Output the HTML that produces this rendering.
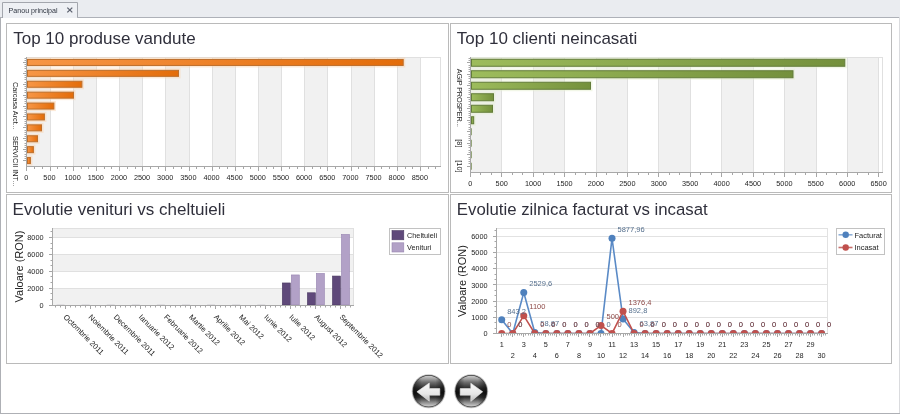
<!DOCTYPE html><html><head><meta charset="utf-8"><style>html,body{margin:0;padding:0;background:#fff;width:900px;height:414px;overflow:hidden}svg{position:absolute;left:0;top:0;display:block;will-change:transform}text{font-family:"Liberation Sans",sans-serif}</style></head><body>
<svg width="900" height="414" viewBox="0 0 900 414">
<defs>
<linearGradient id="gOr" x1="0" y1="0" x2="1" y2="0"><stop offset="0" stop-color="#f79646"/><stop offset="1" stop-color="#e36c09"/></linearGradient>
<linearGradient id="gGr" x1="0" y1="0" x2="1" y2="0"><stop offset="0" stop-color="#9dbc5c"/><stop offset="1" stop-color="#74903c"/></linearGradient>
<linearGradient id="btnV" x1="0" y1="0" x2="0" y2="1"><stop offset="0" stop-color="#cacaca"/><stop offset="0.1" stop-color="#a2a2a2"/><stop offset="0.22" stop-color="#6a6a6a"/><stop offset="0.4" stop-color="#2e2e2e"/><stop offset="0.55" stop-color="#151515"/><stop offset="0.7" stop-color="#333333"/><stop offset="0.86" stop-color="#8c8c8c"/><stop offset="1" stop-color="#d0d0d0"/></linearGradient>
<linearGradient id="btnEdge" x1="0" y1="0" x2="1" y2="0"><stop offset="0" stop-color="#000" stop-opacity="0.5"/><stop offset="0.28" stop-color="#000" stop-opacity="0"/><stop offset="0.72" stop-color="#000" stop-opacity="0"/><stop offset="1" stop-color="#000" stop-opacity="0.5"/></linearGradient>
<linearGradient id="arrG" x1="0" y1="0" x2="0" y2="1"><stop offset="0" stop-color="#fafafa"/><stop offset="0.6" stop-color="#e6e6e6"/><stop offset="1" stop-color="#b8b8b8"/></linearGradient>
<clipPath id="clipBR"><rect x="497" y="228" width="330" height="105"/></clipPath>
</defs>
<rect x="0.00" y="0.00" width="900.00" height="17.00" fill="#eaecf0" />
<rect x="0" y="17" width="900" height="397" fill="#fff"/>
<line x1="0" y1="17.5" x2="900" y2="17.5" stroke="#aeb1b8" stroke-width="1" />
<line x1="0.5" y1="17" x2="0.5" y2="414" stroke="#aeb0b5" stroke-width="1" />
<line x1="0" y1="413.5" x2="900" y2="413.5" stroke="#aeb0b5" stroke-width="1" />
<line x1="899.5" y1="17" x2="899.5" y2="413" stroke="#dadbde" stroke-width="1" />
<path d="M2.5 18 V2.5 H77.5 V17.5" fill="#eef0f4" stroke="#a3a6ad"/>
<rect x="3.00" y="3.00" width="74.00" height="15.00" fill="#eef0f4" />
<text x="8.60" y="12.60" font-size="7.1" fill="#2e3440" text-anchor="start" >Panou principal</text>
<path d="M67.3 7.6 L72.3 12.4 M72.3 7.6 L67.3 12.4" stroke="#5d6270" stroke-width="1.3"/>
<rect x="6.5" y="23.5" width="442" height="169" fill="#fff" stroke="#bababa"/>
<rect x="450.5" y="23.5" width="441" height="169" fill="#fff" stroke="#bababa"/>
<rect x="6.5" y="194.5" width="442" height="169" fill="#fff" stroke="#bababa"/>
<rect x="450.5" y="194.5" width="441" height="169" fill="#fff" stroke="#bababa"/>
<text x="13.20" y="44.10" font-size="17" fill="#30303c" text-anchor="start" >Top 10 produse vandute</text>
<text x="456.80" y="44.10" font-size="17" fill="#30303c" text-anchor="start" >Top 10 clienti neincasati</text>
<text x="12.60" y="214.60" font-size="17" fill="#30303c" text-anchor="start" >Evolutie venituri vs cheltuieli</text>
<text x="456.80" y="214.80" font-size="16.8" fill="#30303c" text-anchor="start" >Evolutie zilnica facturat vs incasat</text>
<rect x="27.00" y="57.00" width="23.50" height="109.00" fill="#f1f1f1" />
<rect x="74.00" y="57.00" width="22.50" height="109.00" fill="#f1f1f1" />
<rect x="120.00" y="57.00" width="22.50" height="109.00" fill="#f1f1f1" />
<rect x="166.00" y="57.00" width="23.50" height="109.00" fill="#f1f1f1" />
<rect x="213.00" y="57.00" width="22.50" height="109.00" fill="#f1f1f1" />
<rect x="259.00" y="57.00" width="22.50" height="109.00" fill="#f1f1f1" />
<rect x="305.00" y="57.00" width="22.50" height="109.00" fill="#f1f1f1" />
<rect x="352.00" y="57.00" width="22.50" height="109.00" fill="#f1f1f1" />
<rect x="398.00" y="57.00" width="22.50" height="109.00" fill="#f1f1f1" />
<line x1="50.5" y1="57" x2="50.5" y2="166" stroke="#e0e0e0" stroke-width="1" />
<line x1="73.5" y1="57" x2="73.5" y2="166" stroke="#e0e0e0" stroke-width="1" />
<line x1="96.5" y1="57" x2="96.5" y2="166" stroke="#e0e0e0" stroke-width="1" />
<line x1="119.5" y1="57" x2="119.5" y2="166" stroke="#e0e0e0" stroke-width="1" />
<line x1="142.5" y1="57" x2="142.5" y2="166" stroke="#e0e0e0" stroke-width="1" />
<line x1="165.5" y1="57" x2="165.5" y2="166" stroke="#e0e0e0" stroke-width="1" />
<line x1="189.5" y1="57" x2="189.5" y2="166" stroke="#e0e0e0" stroke-width="1" />
<line x1="212.5" y1="57" x2="212.5" y2="166" stroke="#e0e0e0" stroke-width="1" />
<line x1="235.5" y1="57" x2="235.5" y2="166" stroke="#e0e0e0" stroke-width="1" />
<line x1="258.5" y1="57" x2="258.5" y2="166" stroke="#e0e0e0" stroke-width="1" />
<line x1="281.5" y1="57" x2="281.5" y2="166" stroke="#e0e0e0" stroke-width="1" />
<line x1="304.5" y1="57" x2="304.5" y2="166" stroke="#e0e0e0" stroke-width="1" />
<line x1="327.5" y1="57" x2="327.5" y2="166" stroke="#e0e0e0" stroke-width="1" />
<line x1="351.5" y1="57" x2="351.5" y2="166" stroke="#e0e0e0" stroke-width="1" />
<line x1="374.5" y1="57" x2="374.5" y2="166" stroke="#e0e0e0" stroke-width="1" />
<line x1="397.5" y1="57" x2="397.5" y2="166" stroke="#e0e0e0" stroke-width="1" />
<line x1="420.5" y1="57" x2="420.5" y2="166" stroke="#e0e0e0" stroke-width="1" />
<line x1="26" y1="57.5" x2="440.5" y2="57.5" stroke="#e0e0e0" stroke-width="1" />
<line x1="440.5" y1="57" x2="440.5" y2="166" stroke="#e0e0e0" stroke-width="1" />
<rect x="27" y="57.45" width="378.20" height="10" fill="#fbd3ad" opacity="0.5"/>
<rect x="27.5" y="59.45" width="375.70" height="6" fill="url(#gOr)" stroke="#bd6f2c" stroke-width="1"/>
<rect x="27" y="68.35" width="153.50" height="10" fill="#fbd3ad" opacity="0.5"/>
<rect x="27.5" y="70.35" width="151.00" height="6" fill="url(#gOr)" stroke="#bd6f2c" stroke-width="1"/>
<rect x="27" y="79.25" width="56.90" height="10" fill="#fbd3ad" opacity="0.5"/>
<rect x="27.5" y="81.25" width="54.40" height="6" fill="url(#gOr)" stroke="#bd6f2c" stroke-width="1"/>
<rect x="27" y="90.15" width="48.50" height="10" fill="#fbd3ad" opacity="0.5"/>
<rect x="27.5" y="92.15" width="46.00" height="6" fill="url(#gOr)" stroke="#bd6f2c" stroke-width="1"/>
<rect x="27" y="101.05" width="28.90" height="10" fill="#fbd3ad" opacity="0.5"/>
<rect x="27.5" y="103.05" width="26.40" height="6" fill="url(#gOr)" stroke="#bd6f2c" stroke-width="1"/>
<rect x="27" y="111.95" width="19.40" height="10" fill="#fbd3ad" opacity="0.5"/>
<rect x="27.5" y="113.95" width="16.90" height="6" fill="url(#gOr)" stroke="#bd6f2c" stroke-width="1"/>
<rect x="27" y="122.85" width="16.50" height="10" fill="#fbd3ad" opacity="0.5"/>
<rect x="27.5" y="124.85" width="14.00" height="6" fill="url(#gOr)" stroke="#bd6f2c" stroke-width="1"/>
<rect x="27" y="133.75" width="12.50" height="10" fill="#fbd3ad" opacity="0.5"/>
<rect x="27.5" y="135.75" width="10.00" height="6" fill="url(#gOr)" stroke="#bd6f2c" stroke-width="1"/>
<rect x="27" y="144.65" width="8.40" height="10" fill="#fbd3ad" opacity="0.5"/>
<rect x="27.5" y="146.65" width="5.90" height="6" fill="url(#gOr)" stroke="#bd6f2c" stroke-width="1"/>
<rect x="27" y="155.55" width="5.40" height="10" fill="#fbd3ad" opacity="0.5"/>
<rect x="27.5" y="157.55" width="2.90" height="6" fill="url(#gOr)" stroke="#bd6f2c" stroke-width="1"/>
<line x1="26.5" y1="57" x2="26.5" y2="167" stroke="#a8a8a8" stroke-width="1" />
<line x1="26" y1="166.5" x2="441" y2="166.5" stroke="#a8a8a8" stroke-width="1" />
<line x1="26.5" y1="167" x2="26.5" y2="171" stroke="#a6a6a6" stroke-width="1" />
<line x1="34.5" y1="167" x2="34.5" y2="169" stroke="#a6a6a6" stroke-width="1" />
<line x1="42.5" y1="167" x2="42.5" y2="169" stroke="#a6a6a6" stroke-width="1" />
<text x="26.30" y="180.00" font-size="7.3" fill="#1e1e1e" text-anchor="middle" >0</text>
<line x1="50.5" y1="167" x2="50.5" y2="171" stroke="#a6a6a6" stroke-width="1" />
<line x1="57.5" y1="167" x2="57.5" y2="169" stroke="#a6a6a6" stroke-width="1" />
<line x1="65.5" y1="167" x2="65.5" y2="169" stroke="#a6a6a6" stroke-width="1" />
<text x="49.45" y="180.00" font-size="7.3" fill="#1e1e1e" text-anchor="middle" >500</text>
<line x1="73.5" y1="167" x2="73.5" y2="171" stroke="#a6a6a6" stroke-width="1" />
<line x1="81.5" y1="167" x2="81.5" y2="169" stroke="#a6a6a6" stroke-width="1" />
<line x1="88.5" y1="167" x2="88.5" y2="169" stroke="#a6a6a6" stroke-width="1" />
<text x="72.60" y="180.00" font-size="7.3" fill="#1e1e1e" text-anchor="middle" >1000</text>
<line x1="96.5" y1="167" x2="96.5" y2="171" stroke="#a6a6a6" stroke-width="1" />
<line x1="104.5" y1="167" x2="104.5" y2="169" stroke="#a6a6a6" stroke-width="1" />
<line x1="111.5" y1="167" x2="111.5" y2="169" stroke="#a6a6a6" stroke-width="1" />
<text x="95.75" y="180.00" font-size="7.3" fill="#1e1e1e" text-anchor="middle" >1500</text>
<line x1="119.5" y1="167" x2="119.5" y2="171" stroke="#a6a6a6" stroke-width="1" />
<line x1="127.5" y1="167" x2="127.5" y2="169" stroke="#a6a6a6" stroke-width="1" />
<line x1="135.5" y1="167" x2="135.5" y2="169" stroke="#a6a6a6" stroke-width="1" />
<text x="118.90" y="180.00" font-size="7.3" fill="#1e1e1e" text-anchor="middle" >2000</text>
<line x1="142.5" y1="167" x2="142.5" y2="171" stroke="#a6a6a6" stroke-width="1" />
<line x1="150.5" y1="167" x2="150.5" y2="169" stroke="#a6a6a6" stroke-width="1" />
<line x1="158.5" y1="167" x2="158.5" y2="169" stroke="#a6a6a6" stroke-width="1" />
<text x="142.05" y="180.00" font-size="7.3" fill="#1e1e1e" text-anchor="middle" >2500</text>
<line x1="165.5" y1="167" x2="165.5" y2="171" stroke="#a6a6a6" stroke-width="1" />
<line x1="173.5" y1="167" x2="173.5" y2="169" stroke="#a6a6a6" stroke-width="1" />
<line x1="181.5" y1="167" x2="181.5" y2="169" stroke="#a6a6a6" stroke-width="1" />
<text x="165.20" y="180.00" font-size="7.3" fill="#1e1e1e" text-anchor="middle" >3000</text>
<line x1="189.5" y1="167" x2="189.5" y2="171" stroke="#a6a6a6" stroke-width="1" />
<line x1="196.5" y1="167" x2="196.5" y2="169" stroke="#a6a6a6" stroke-width="1" />
<line x1="204.5" y1="167" x2="204.5" y2="169" stroke="#a6a6a6" stroke-width="1" />
<text x="188.35" y="180.00" font-size="7.3" fill="#1e1e1e" text-anchor="middle" >3500</text>
<line x1="212.5" y1="167" x2="212.5" y2="171" stroke="#a6a6a6" stroke-width="1" />
<line x1="219.5" y1="167" x2="219.5" y2="169" stroke="#a6a6a6" stroke-width="1" />
<line x1="227.5" y1="167" x2="227.5" y2="169" stroke="#a6a6a6" stroke-width="1" />
<text x="211.50" y="180.00" font-size="7.3" fill="#1e1e1e" text-anchor="middle" >4000</text>
<line x1="235.5" y1="167" x2="235.5" y2="171" stroke="#a6a6a6" stroke-width="1" />
<line x1="243.5" y1="167" x2="243.5" y2="169" stroke="#a6a6a6" stroke-width="1" />
<line x1="250.5" y1="167" x2="250.5" y2="169" stroke="#a6a6a6" stroke-width="1" />
<text x="234.65" y="180.00" font-size="7.3" fill="#1e1e1e" text-anchor="middle" >4500</text>
<line x1="258.5" y1="167" x2="258.5" y2="171" stroke="#a6a6a6" stroke-width="1" />
<line x1="266.5" y1="167" x2="266.5" y2="169" stroke="#a6a6a6" stroke-width="1" />
<line x1="273.5" y1="167" x2="273.5" y2="169" stroke="#a6a6a6" stroke-width="1" />
<text x="257.80" y="180.00" font-size="7.3" fill="#1e1e1e" text-anchor="middle" >5000</text>
<line x1="281.5" y1="167" x2="281.5" y2="171" stroke="#a6a6a6" stroke-width="1" />
<line x1="289.5" y1="167" x2="289.5" y2="169" stroke="#a6a6a6" stroke-width="1" />
<line x1="297.5" y1="167" x2="297.5" y2="169" stroke="#a6a6a6" stroke-width="1" />
<text x="280.95" y="180.00" font-size="7.3" fill="#1e1e1e" text-anchor="middle" >5500</text>
<line x1="304.5" y1="167" x2="304.5" y2="171" stroke="#a6a6a6" stroke-width="1" />
<line x1="312.5" y1="167" x2="312.5" y2="169" stroke="#a6a6a6" stroke-width="1" />
<line x1="320.5" y1="167" x2="320.5" y2="169" stroke="#a6a6a6" stroke-width="1" />
<text x="304.10" y="180.00" font-size="7.3" fill="#1e1e1e" text-anchor="middle" >6000</text>
<line x1="327.5" y1="167" x2="327.5" y2="171" stroke="#a6a6a6" stroke-width="1" />
<line x1="335.5" y1="167" x2="335.5" y2="169" stroke="#a6a6a6" stroke-width="1" />
<line x1="343.5" y1="167" x2="343.5" y2="169" stroke="#a6a6a6" stroke-width="1" />
<text x="327.25" y="180.00" font-size="7.3" fill="#1e1e1e" text-anchor="middle" >6500</text>
<line x1="351.5" y1="167" x2="351.5" y2="171" stroke="#a6a6a6" stroke-width="1" />
<line x1="358.5" y1="167" x2="358.5" y2="169" stroke="#a6a6a6" stroke-width="1" />
<line x1="366.5" y1="167" x2="366.5" y2="169" stroke="#a6a6a6" stroke-width="1" />
<text x="350.40" y="180.00" font-size="7.3" fill="#1e1e1e" text-anchor="middle" >7000</text>
<line x1="374.5" y1="167" x2="374.5" y2="171" stroke="#a6a6a6" stroke-width="1" />
<line x1="381.5" y1="167" x2="381.5" y2="169" stroke="#a6a6a6" stroke-width="1" />
<line x1="389.5" y1="167" x2="389.5" y2="169" stroke="#a6a6a6" stroke-width="1" />
<text x="373.55" y="180.00" font-size="7.3" fill="#1e1e1e" text-anchor="middle" >7500</text>
<line x1="397.5" y1="167" x2="397.5" y2="171" stroke="#a6a6a6" stroke-width="1" />
<line x1="405.5" y1="167" x2="405.5" y2="169" stroke="#a6a6a6" stroke-width="1" />
<line x1="412.5" y1="167" x2="412.5" y2="169" stroke="#a6a6a6" stroke-width="1" />
<text x="396.70" y="180.00" font-size="7.3" fill="#1e1e1e" text-anchor="middle" >8000</text>
<line x1="420.5" y1="167" x2="420.5" y2="171" stroke="#a6a6a6" stroke-width="1" />
<line x1="428.5" y1="167" x2="428.5" y2="169" stroke="#a6a6a6" stroke-width="1" />
<line x1="435.5" y1="167" x2="435.5" y2="169" stroke="#a6a6a6" stroke-width="1" />
<text x="419.85" y="180.00" font-size="7.3" fill="#1e1e1e" text-anchor="middle" >8500</text>
<line x1="23" y1="62.5" x2="26" y2="62.5" stroke="#a6a6a6" stroke-width="1" />
<line x1="23" y1="73.5" x2="26" y2="73.5" stroke="#a6a6a6" stroke-width="1" />
<line x1="23" y1="84.5" x2="26" y2="84.5" stroke="#a6a6a6" stroke-width="1" />
<line x1="23" y1="95.5" x2="26" y2="95.5" stroke="#a6a6a6" stroke-width="1" />
<line x1="23" y1="106.5" x2="26" y2="106.5" stroke="#a6a6a6" stroke-width="1" />
<line x1="23" y1="116.5" x2="26" y2="116.5" stroke="#a6a6a6" stroke-width="1" />
<line x1="23" y1="127.5" x2="26" y2="127.5" stroke="#a6a6a6" stroke-width="1" />
<line x1="23" y1="138.5" x2="26" y2="138.5" stroke="#a6a6a6" stroke-width="1" />
<line x1="23" y1="149.5" x2="26" y2="149.5" stroke="#a6a6a6" stroke-width="1" />
<line x1="23" y1="160.5" x2="26" y2="160.5" stroke="#a6a6a6" stroke-width="1" />
<line x1="24.5" y1="58.5" x2="26" y2="58.5" stroke="#a6a6a6" stroke-width="1" />
<line x1="24.5" y1="60.5" x2="26" y2="60.5" stroke="#a6a6a6" stroke-width="1" />
<line x1="24.5" y1="64.5" x2="26" y2="64.5" stroke="#a6a6a6" stroke-width="1" />
<line x1="24.5" y1="66.5" x2="26" y2="66.5" stroke="#a6a6a6" stroke-width="1" />
<line x1="24.5" y1="68.5" x2="26" y2="68.5" stroke="#a6a6a6" stroke-width="1" />
<line x1="24.5" y1="71.5" x2="26" y2="71.5" stroke="#a6a6a6" stroke-width="1" />
<line x1="24.5" y1="75.5" x2="26" y2="75.5" stroke="#a6a6a6" stroke-width="1" />
<line x1="24.5" y1="77.5" x2="26" y2="77.5" stroke="#a6a6a6" stroke-width="1" />
<line x1="24.5" y1="79.5" x2="26" y2="79.5" stroke="#a6a6a6" stroke-width="1" />
<line x1="24.5" y1="82.5" x2="26" y2="82.5" stroke="#a6a6a6" stroke-width="1" />
<line x1="24.5" y1="86.5" x2="26" y2="86.5" stroke="#a6a6a6" stroke-width="1" />
<line x1="24.5" y1="88.5" x2="26" y2="88.5" stroke="#a6a6a6" stroke-width="1" />
<line x1="24.5" y1="90.5" x2="26" y2="90.5" stroke="#a6a6a6" stroke-width="1" />
<line x1="24.5" y1="92.5" x2="26" y2="92.5" stroke="#a6a6a6" stroke-width="1" />
<line x1="24.5" y1="97.5" x2="26" y2="97.5" stroke="#a6a6a6" stroke-width="1" />
<line x1="24.5" y1="99.5" x2="26" y2="99.5" stroke="#a6a6a6" stroke-width="1" />
<line x1="24.5" y1="101.5" x2="26" y2="101.5" stroke="#a6a6a6" stroke-width="1" />
<line x1="24.5" y1="103.5" x2="26" y2="103.5" stroke="#a6a6a6" stroke-width="1" />
<line x1="24.5" y1="108.5" x2="26" y2="108.5" stroke="#a6a6a6" stroke-width="1" />
<line x1="24.5" y1="110.5" x2="26" y2="110.5" stroke="#a6a6a6" stroke-width="1" />
<line x1="24.5" y1="112.5" x2="26" y2="112.5" stroke="#a6a6a6" stroke-width="1" />
<line x1="24.5" y1="114.5" x2="26" y2="114.5" stroke="#a6a6a6" stroke-width="1" />
<line x1="24.5" y1="119.5" x2="26" y2="119.5" stroke="#a6a6a6" stroke-width="1" />
<line x1="24.5" y1="121.5" x2="26" y2="121.5" stroke="#a6a6a6" stroke-width="1" />
<line x1="24.5" y1="123.5" x2="26" y2="123.5" stroke="#a6a6a6" stroke-width="1" />
<line x1="24.5" y1="125.5" x2="26" y2="125.5" stroke="#a6a6a6" stroke-width="1" />
<line x1="24.5" y1="130.5" x2="26" y2="130.5" stroke="#a6a6a6" stroke-width="1" />
<line x1="24.5" y1="132.5" x2="26" y2="132.5" stroke="#a6a6a6" stroke-width="1" />
<line x1="24.5" y1="134.5" x2="26" y2="134.5" stroke="#a6a6a6" stroke-width="1" />
<line x1="24.5" y1="136.5" x2="26" y2="136.5" stroke="#a6a6a6" stroke-width="1" />
<line x1="24.5" y1="140.5" x2="26" y2="140.5" stroke="#a6a6a6" stroke-width="1" />
<line x1="24.5" y1="143.5" x2="26" y2="143.5" stroke="#a6a6a6" stroke-width="1" />
<line x1="24.5" y1="145.5" x2="26" y2="145.5" stroke="#a6a6a6" stroke-width="1" />
<line x1="24.5" y1="147.5" x2="26" y2="147.5" stroke="#a6a6a6" stroke-width="1" />
<line x1="24.5" y1="151.5" x2="26" y2="151.5" stroke="#a6a6a6" stroke-width="1" />
<line x1="24.5" y1="154.5" x2="26" y2="154.5" stroke="#a6a6a6" stroke-width="1" />
<line x1="24.5" y1="156.5" x2="26" y2="156.5" stroke="#a6a6a6" stroke-width="1" />
<line x1="24.5" y1="158.5" x2="26" y2="158.5" stroke="#a6a6a6" stroke-width="1" />
<text transform="translate(12.6,105.90) rotate(90)" font-size="7.3" fill="#1e1e1e" text-anchor="middle" letter-spacing="0">Carcasa Arct...</text>
<text transform="translate(12.6,161.20) rotate(90)" font-size="7.3" fill="#1e1e1e" text-anchor="middle" letter-spacing="0">SERVICII INT...</text>
<rect x="471.00" y="57.00" width="30.50" height="115.00" fill="#f1f1f1" />
<rect x="534.00" y="57.00" width="30.50" height="115.00" fill="#f1f1f1" />
<rect x="597.00" y="57.00" width="30.50" height="115.00" fill="#f1f1f1" />
<rect x="659.00" y="57.00" width="31.50" height="115.00" fill="#f1f1f1" />
<rect x="722.00" y="57.00" width="31.50" height="115.00" fill="#f1f1f1" />
<rect x="785.00" y="57.00" width="31.50" height="115.00" fill="#f1f1f1" />
<rect x="848.00" y="57.00" width="30.50" height="115.00" fill="#f1f1f1" />
<line x1="501.5" y1="57" x2="501.5" y2="172" stroke="#e0e0e0" stroke-width="1" />
<line x1="533.5" y1="57" x2="533.5" y2="172" stroke="#e0e0e0" stroke-width="1" />
<line x1="564.5" y1="57" x2="564.5" y2="172" stroke="#e0e0e0" stroke-width="1" />
<line x1="596.5" y1="57" x2="596.5" y2="172" stroke="#e0e0e0" stroke-width="1" />
<line x1="627.5" y1="57" x2="627.5" y2="172" stroke="#e0e0e0" stroke-width="1" />
<line x1="658.5" y1="57" x2="658.5" y2="172" stroke="#e0e0e0" stroke-width="1" />
<line x1="690.5" y1="57" x2="690.5" y2="172" stroke="#e0e0e0" stroke-width="1" />
<line x1="721.5" y1="57" x2="721.5" y2="172" stroke="#e0e0e0" stroke-width="1" />
<line x1="753.5" y1="57" x2="753.5" y2="172" stroke="#e0e0e0" stroke-width="1" />
<line x1="784.5" y1="57" x2="784.5" y2="172" stroke="#e0e0e0" stroke-width="1" />
<line x1="816.5" y1="57" x2="816.5" y2="172" stroke="#e0e0e0" stroke-width="1" />
<line x1="847.5" y1="57" x2="847.5" y2="172" stroke="#e0e0e0" stroke-width="1" />
<line x1="878.5" y1="57" x2="878.5" y2="172" stroke="#e0e0e0" stroke-width="1" />
<line x1="470" y1="57.5" x2="882.5" y2="57.5" stroke="#e0e0e0" stroke-width="1" />
<line x1="882.5" y1="57" x2="882.5" y2="172" stroke="#e0e0e0" stroke-width="1" />
<rect x="471" y="57.25" width="375.80" height="11" fill="#e6f0d0" opacity="0.5"/>
<rect x="471.5" y="59.25" width="373.30" height="7" fill="url(#gGr)" stroke="#637c3a" stroke-width="1"/>
<rect x="471" y="68.75" width="324.00" height="11" fill="#e6f0d0" opacity="0.5"/>
<rect x="471.5" y="70.75" width="321.50" height="7" fill="url(#gGr)" stroke="#637c3a" stroke-width="1"/>
<rect x="471" y="80.25" width="121.50" height="11" fill="#e6f0d0" opacity="0.5"/>
<rect x="471.5" y="82.25" width="119.00" height="7" fill="url(#gGr)" stroke="#637c3a" stroke-width="1"/>
<rect x="471" y="91.75" width="24.50" height="11" fill="#e6f0d0" opacity="0.5"/>
<rect x="471.5" y="93.75" width="22.00" height="7" fill="url(#gGr)" stroke="#637c3a" stroke-width="1"/>
<rect x="471" y="103.25" width="23.50" height="11" fill="#e6f0d0" opacity="0.5"/>
<rect x="471.5" y="105.25" width="21.00" height="7" fill="url(#gGr)" stroke="#637c3a" stroke-width="1"/>
<rect x="471" y="114.75" width="4.70" height="11" fill="#e6f0d0" opacity="0.5"/>
<rect x="471.5" y="116.75" width="2.20" height="7" fill="url(#gGr)" stroke="#637c3a" stroke-width="1"/>
<rect x="470.6" y="128.25" width="1.2" height="7" fill="#637c3a" opacity="0.8"/>
<rect x="470.6" y="139.75" width="1.2" height="7" fill="#637c3a" opacity="0.8"/>
<rect x="470.6" y="151.25" width="1.2" height="7" fill="#637c3a" opacity="0.8"/>
<rect x="470.6" y="162.75" width="1.2" height="7" fill="#637c3a" opacity="0.8"/>
<line x1="470.5" y1="57" x2="470.5" y2="173" stroke="#a8a8a8" stroke-width="1" />
<line x1="470" y1="172.5" x2="883" y2="172.5" stroke="#a8a8a8" stroke-width="1" />
<line x1="470.5" y1="173" x2="470.5" y2="177" stroke="#a6a6a6" stroke-width="1" />
<line x1="480.5" y1="173" x2="480.5" y2="175" stroke="#a6a6a6" stroke-width="1" />
<line x1="491.5" y1="173" x2="491.5" y2="175" stroke="#a6a6a6" stroke-width="1" />
<text x="470.30" y="186.40" font-size="7.3" fill="#1e1e1e" text-anchor="middle" >0</text>
<line x1="501.5" y1="173" x2="501.5" y2="177" stroke="#a6a6a6" stroke-width="1" />
<line x1="512.5" y1="173" x2="512.5" y2="175" stroke="#a6a6a6" stroke-width="1" />
<line x1="522.5" y1="173" x2="522.5" y2="175" stroke="#a6a6a6" stroke-width="1" />
<text x="501.71" y="186.40" font-size="7.3" fill="#1e1e1e" text-anchor="middle" >500</text>
<line x1="533.5" y1="173" x2="533.5" y2="177" stroke="#a6a6a6" stroke-width="1" />
<line x1="543.5" y1="173" x2="543.5" y2="175" stroke="#a6a6a6" stroke-width="1" />
<line x1="554.5" y1="173" x2="554.5" y2="175" stroke="#a6a6a6" stroke-width="1" />
<text x="533.12" y="186.40" font-size="7.3" fill="#1e1e1e" text-anchor="middle" >1000</text>
<line x1="564.5" y1="173" x2="564.5" y2="177" stroke="#a6a6a6" stroke-width="1" />
<line x1="575.5" y1="173" x2="575.5" y2="175" stroke="#a6a6a6" stroke-width="1" />
<line x1="585.5" y1="173" x2="585.5" y2="175" stroke="#a6a6a6" stroke-width="1" />
<text x="564.53" y="186.40" font-size="7.3" fill="#1e1e1e" text-anchor="middle" >1500</text>
<line x1="596.5" y1="173" x2="596.5" y2="177" stroke="#a6a6a6" stroke-width="1" />
<line x1="606.5" y1="173" x2="606.5" y2="175" stroke="#a6a6a6" stroke-width="1" />
<line x1="617.5" y1="173" x2="617.5" y2="175" stroke="#a6a6a6" stroke-width="1" />
<text x="595.94" y="186.40" font-size="7.3" fill="#1e1e1e" text-anchor="middle" >2000</text>
<line x1="627.5" y1="173" x2="627.5" y2="177" stroke="#a6a6a6" stroke-width="1" />
<line x1="638.5" y1="173" x2="638.5" y2="175" stroke="#a6a6a6" stroke-width="1" />
<line x1="648.5" y1="173" x2="648.5" y2="175" stroke="#a6a6a6" stroke-width="1" />
<text x="627.35" y="186.40" font-size="7.3" fill="#1e1e1e" text-anchor="middle" >2500</text>
<line x1="658.5" y1="173" x2="658.5" y2="177" stroke="#a6a6a6" stroke-width="1" />
<line x1="669.5" y1="173" x2="669.5" y2="175" stroke="#a6a6a6" stroke-width="1" />
<line x1="679.5" y1="173" x2="679.5" y2="175" stroke="#a6a6a6" stroke-width="1" />
<text x="658.76" y="186.40" font-size="7.3" fill="#1e1e1e" text-anchor="middle" >3000</text>
<line x1="690.5" y1="173" x2="690.5" y2="177" stroke="#a6a6a6" stroke-width="1" />
<line x1="700.5" y1="173" x2="700.5" y2="175" stroke="#a6a6a6" stroke-width="1" />
<line x1="711.5" y1="173" x2="711.5" y2="175" stroke="#a6a6a6" stroke-width="1" />
<text x="690.17" y="186.40" font-size="7.3" fill="#1e1e1e" text-anchor="middle" >3500</text>
<line x1="721.5" y1="173" x2="721.5" y2="177" stroke="#a6a6a6" stroke-width="1" />
<line x1="732.5" y1="173" x2="732.5" y2="175" stroke="#a6a6a6" stroke-width="1" />
<line x1="742.5" y1="173" x2="742.5" y2="175" stroke="#a6a6a6" stroke-width="1" />
<text x="721.58" y="186.40" font-size="7.3" fill="#1e1e1e" text-anchor="middle" >4000</text>
<line x1="753.5" y1="173" x2="753.5" y2="177" stroke="#a6a6a6" stroke-width="1" />
<line x1="763.5" y1="173" x2="763.5" y2="175" stroke="#a6a6a6" stroke-width="1" />
<line x1="774.5" y1="173" x2="774.5" y2="175" stroke="#a6a6a6" stroke-width="1" />
<text x="752.99" y="186.40" font-size="7.3" fill="#1e1e1e" text-anchor="middle" >4500</text>
<line x1="784.5" y1="173" x2="784.5" y2="177" stroke="#a6a6a6" stroke-width="1" />
<line x1="795.5" y1="173" x2="795.5" y2="175" stroke="#a6a6a6" stroke-width="1" />
<line x1="805.5" y1="173" x2="805.5" y2="175" stroke="#a6a6a6" stroke-width="1" />
<text x="784.40" y="186.40" font-size="7.3" fill="#1e1e1e" text-anchor="middle" >5000</text>
<line x1="816.5" y1="173" x2="816.5" y2="177" stroke="#a6a6a6" stroke-width="1" />
<line x1="826.5" y1="173" x2="826.5" y2="175" stroke="#a6a6a6" stroke-width="1" />
<line x1="836.5" y1="173" x2="836.5" y2="175" stroke="#a6a6a6" stroke-width="1" />
<text x="815.81" y="186.40" font-size="7.3" fill="#1e1e1e" text-anchor="middle" >5500</text>
<line x1="847.5" y1="173" x2="847.5" y2="177" stroke="#a6a6a6" stroke-width="1" />
<line x1="857.5" y1="173" x2="857.5" y2="175" stroke="#a6a6a6" stroke-width="1" />
<line x1="868.5" y1="173" x2="868.5" y2="175" stroke="#a6a6a6" stroke-width="1" />
<text x="847.22" y="186.40" font-size="7.3" fill="#1e1e1e" text-anchor="middle" >6000</text>
<line x1="878.5" y1="173" x2="878.5" y2="177" stroke="#a6a6a6" stroke-width="1" />
<text x="878.63" y="186.40" font-size="7.3" fill="#1e1e1e" text-anchor="middle" >6500</text>
<line x1="467" y1="62.5" x2="470" y2="62.5" stroke="#a6a6a6" stroke-width="1" />
<line x1="467" y1="74.5" x2="470" y2="74.5" stroke="#a6a6a6" stroke-width="1" />
<line x1="467" y1="85.5" x2="470" y2="85.5" stroke="#a6a6a6" stroke-width="1" />
<line x1="467" y1="97.5" x2="470" y2="97.5" stroke="#a6a6a6" stroke-width="1" />
<line x1="467" y1="108.5" x2="470" y2="108.5" stroke="#a6a6a6" stroke-width="1" />
<line x1="467" y1="120.5" x2="470" y2="120.5" stroke="#a6a6a6" stroke-width="1" />
<line x1="467" y1="131.5" x2="470" y2="131.5" stroke="#a6a6a6" stroke-width="1" />
<line x1="467" y1="143.5" x2="470" y2="143.5" stroke="#a6a6a6" stroke-width="1" />
<line x1="467" y1="154.5" x2="470" y2="154.5" stroke="#a6a6a6" stroke-width="1" />
<line x1="467" y1="166.5" x2="470" y2="166.5" stroke="#a6a6a6" stroke-width="1" />
<line x1="468.5" y1="58.5" x2="470" y2="58.5" stroke="#a6a6a6" stroke-width="1" />
<line x1="468.5" y1="60.5" x2="470" y2="60.5" stroke="#a6a6a6" stroke-width="1" />
<line x1="468.5" y1="65.5" x2="470" y2="65.5" stroke="#a6a6a6" stroke-width="1" />
<line x1="468.5" y1="67.5" x2="470" y2="67.5" stroke="#a6a6a6" stroke-width="1" />
<line x1="468.5" y1="69.5" x2="470" y2="69.5" stroke="#a6a6a6" stroke-width="1" />
<line x1="468.5" y1="71.5" x2="470" y2="71.5" stroke="#a6a6a6" stroke-width="1" />
<line x1="468.5" y1="76.5" x2="470" y2="76.5" stroke="#a6a6a6" stroke-width="1" />
<line x1="468.5" y1="78.5" x2="470" y2="78.5" stroke="#a6a6a6" stroke-width="1" />
<line x1="468.5" y1="81.5" x2="470" y2="81.5" stroke="#a6a6a6" stroke-width="1" />
<line x1="468.5" y1="83.5" x2="470" y2="83.5" stroke="#a6a6a6" stroke-width="1" />
<line x1="468.5" y1="88.5" x2="470" y2="88.5" stroke="#a6a6a6" stroke-width="1" />
<line x1="468.5" y1="90.5" x2="470" y2="90.5" stroke="#a6a6a6" stroke-width="1" />
<line x1="468.5" y1="92.5" x2="470" y2="92.5" stroke="#a6a6a6" stroke-width="1" />
<line x1="468.5" y1="94.5" x2="470" y2="94.5" stroke="#a6a6a6" stroke-width="1" />
<line x1="468.5" y1="99.5" x2="470" y2="99.5" stroke="#a6a6a6" stroke-width="1" />
<line x1="468.5" y1="101.5" x2="470" y2="101.5" stroke="#a6a6a6" stroke-width="1" />
<line x1="468.5" y1="104.5" x2="470" y2="104.5" stroke="#a6a6a6" stroke-width="1" />
<line x1="468.5" y1="106.5" x2="470" y2="106.5" stroke="#a6a6a6" stroke-width="1" />
<line x1="468.5" y1="111.5" x2="470" y2="111.5" stroke="#a6a6a6" stroke-width="1" />
<line x1="468.5" y1="113.5" x2="470" y2="113.5" stroke="#a6a6a6" stroke-width="1" />
<line x1="468.5" y1="115.5" x2="470" y2="115.5" stroke="#a6a6a6" stroke-width="1" />
<line x1="468.5" y1="117.5" x2="470" y2="117.5" stroke="#a6a6a6" stroke-width="1" />
<line x1="468.5" y1="122.5" x2="470" y2="122.5" stroke="#a6a6a6" stroke-width="1" />
<line x1="468.5" y1="124.5" x2="470" y2="124.5" stroke="#a6a6a6" stroke-width="1" />
<line x1="468.5" y1="127.5" x2="470" y2="127.5" stroke="#a6a6a6" stroke-width="1" />
<line x1="468.5" y1="129.5" x2="470" y2="129.5" stroke="#a6a6a6" stroke-width="1" />
<line x1="468.5" y1="134.5" x2="470" y2="134.5" stroke="#a6a6a6" stroke-width="1" />
<line x1="468.5" y1="136.5" x2="470" y2="136.5" stroke="#a6a6a6" stroke-width="1" />
<line x1="468.5" y1="138.5" x2="470" y2="138.5" stroke="#a6a6a6" stroke-width="1" />
<line x1="468.5" y1="140.5" x2="470" y2="140.5" stroke="#a6a6a6" stroke-width="1" />
<line x1="468.5" y1="145.5" x2="470" y2="145.5" stroke="#a6a6a6" stroke-width="1" />
<line x1="468.5" y1="147.5" x2="470" y2="147.5" stroke="#a6a6a6" stroke-width="1" />
<line x1="468.5" y1="150.5" x2="470" y2="150.5" stroke="#a6a6a6" stroke-width="1" />
<line x1="468.5" y1="152.5" x2="470" y2="152.5" stroke="#a6a6a6" stroke-width="1" />
<line x1="468.5" y1="157.5" x2="470" y2="157.5" stroke="#a6a6a6" stroke-width="1" />
<line x1="468.5" y1="159.5" x2="470" y2="159.5" stroke="#a6a6a6" stroke-width="1" />
<line x1="468.5" y1="161.5" x2="470" y2="161.5" stroke="#a6a6a6" stroke-width="1" />
<line x1="468.5" y1="163.5" x2="470" y2="163.5" stroke="#a6a6a6" stroke-width="1" />
<text transform="translate(456.9,97.90) rotate(90)" font-size="7.3" fill="#1e1e1e" text-anchor="middle" letter-spacing="-0.2">AGIP PROSPER...</text>
<text transform="translate(456.9,143.40) rotate(90)" font-size="7.3" fill="#1e1e1e" text-anchor="middle" letter-spacing="0">[8]</text>
<text transform="translate(456.9,166.40) rotate(90)" font-size="7.3" fill="#1e1e1e" text-anchor="middle" letter-spacing="0">[10]</text>
<rect x="52.00" y="288.27" width="301.00" height="16.93" fill="#f1f1f1" />
<rect x="52.00" y="254.41" width="301.00" height="16.93" fill="#f1f1f1" />
<rect x="52.00" y="228.00" width="301.00" height="9.48" fill="#f1f1f1" />
<line x1="52" y1="288.5" x2="353" y2="288.5" stroke="#e0e0e0" stroke-width="1" />
<line x1="52" y1="271.5" x2="353" y2="271.5" stroke="#e0e0e0" stroke-width="1" />
<line x1="52" y1="254.5" x2="353" y2="254.5" stroke="#e0e0e0" stroke-width="1" />
<line x1="52" y1="237.5" x2="353" y2="237.5" stroke="#e0e0e0" stroke-width="1" />
<line x1="52" y1="228.5" x2="353.5" y2="228.5" stroke="#e0e0e0" stroke-width="1" />
<line x1="353.5" y1="228" x2="353.5" y2="305" stroke="#e0e0e0" stroke-width="1" />
<rect x="56.54" y="304.80" width="8.00" height="1.00" fill="#3d3450" opacity="0.45"/>
<rect x="81.62" y="304.80" width="8.00" height="1.00" fill="#3d3450" opacity="0.45"/>
<rect x="106.71" y="304.80" width="8.00" height="1.00" fill="#3d3450" opacity="0.45"/>
<rect x="131.79" y="304.80" width="8.00" height="1.00" fill="#3d3450" opacity="0.45"/>
<rect x="156.88" y="304.80" width="8.00" height="1.00" fill="#3d3450" opacity="0.45"/>
<rect x="181.96" y="304.80" width="8.00" height="1.00" fill="#3d3450" opacity="0.45"/>
<rect x="207.04" y="304.80" width="8.00" height="1.00" fill="#3d3450" opacity="0.45"/>
<rect x="232.12" y="304.80" width="8.00" height="1.00" fill="#3d3450" opacity="0.45"/>
<rect x="257.21" y="304.80" width="8.00" height="1.00" fill="#3d3450" opacity="0.45"/>
<rect x="282.29" y="282.96" width="8" height="22.04" fill="#5f497a" stroke="#4b3a62" stroke-width="0.6"/>
<rect x="291.29" y="274.95" width="8" height="30.05" fill="#b2a1c7" stroke="#9684b0" stroke-width="0.6"/>
<rect x="307.38" y="292.78" width="8" height="12.22" fill="#5f497a" stroke="#4b3a62" stroke-width="0.6"/>
<rect x="316.38" y="273.45" width="8" height="31.55" fill="#b2a1c7" stroke="#9684b0" stroke-width="0.6"/>
<rect x="332.46" y="276.05" width="8" height="28.95" fill="#5f497a" stroke="#4b3a62" stroke-width="0.6"/>
<rect x="341.46" y="234.47" width="8" height="70.53" fill="#b2a1c7" stroke="#9684b0" stroke-width="0.6"/>
<line x1="52.5" y1="228" x2="52.5" y2="306" stroke="#a8a8a8" stroke-width="1" />
<line x1="52" y1="305.5" x2="354" y2="305.5" stroke="#a8a8a8" stroke-width="1" />
<line x1="65.5" y1="306" x2="65.5" y2="309" stroke="#a6a6a6" stroke-width="1" />
<line x1="55.5" y1="306" x2="55.5" y2="307.5" stroke="#a6a6a6" stroke-width="1" />
<line x1="60.5" y1="306" x2="60.5" y2="307.5" stroke="#a6a6a6" stroke-width="1" />
<line x1="70.5" y1="306" x2="70.5" y2="307.5" stroke="#a6a6a6" stroke-width="1" />
<line x1="75.5" y1="306" x2="75.5" y2="307.5" stroke="#a6a6a6" stroke-width="1" />
<text transform="translate(63.04,317.5) rotate(45)" font-size="7.6" fill="#1e1e1e">Octombrie 2011</text>
<line x1="90.5" y1="306" x2="90.5" y2="309" stroke="#a6a6a6" stroke-width="1" />
<line x1="80.5" y1="306" x2="80.5" y2="307.5" stroke="#a6a6a6" stroke-width="1" />
<line x1="85.5" y1="306" x2="85.5" y2="307.5" stroke="#a6a6a6" stroke-width="1" />
<line x1="95.5" y1="306" x2="95.5" y2="307.5" stroke="#a6a6a6" stroke-width="1" />
<line x1="100.5" y1="306" x2="100.5" y2="307.5" stroke="#a6a6a6" stroke-width="1" />
<text transform="translate(88.12,317.5) rotate(45)" font-size="7.6" fill="#1e1e1e">Noiembrie 2011</text>
<line x1="115.5" y1="306" x2="115.5" y2="309" stroke="#a6a6a6" stroke-width="1" />
<line x1="105.5" y1="306" x2="105.5" y2="307.5" stroke="#a6a6a6" stroke-width="1" />
<line x1="110.5" y1="306" x2="110.5" y2="307.5" stroke="#a6a6a6" stroke-width="1" />
<line x1="120.5" y1="306" x2="120.5" y2="307.5" stroke="#a6a6a6" stroke-width="1" />
<line x1="125.5" y1="306" x2="125.5" y2="307.5" stroke="#a6a6a6" stroke-width="1" />
<text transform="translate(113.21,317.5) rotate(45)" font-size="7.6" fill="#1e1e1e">Decembrie 2011</text>
<line x1="140.5" y1="306" x2="140.5" y2="309" stroke="#a6a6a6" stroke-width="1" />
<line x1="130.5" y1="306" x2="130.5" y2="307.5" stroke="#a6a6a6" stroke-width="1" />
<line x1="135.5" y1="306" x2="135.5" y2="307.5" stroke="#a6a6a6" stroke-width="1" />
<line x1="145.5" y1="306" x2="145.5" y2="307.5" stroke="#a6a6a6" stroke-width="1" />
<line x1="150.5" y1="306" x2="150.5" y2="307.5" stroke="#a6a6a6" stroke-width="1" />
<text transform="translate(138.29,317.5) rotate(45)" font-size="7.6" fill="#1e1e1e">Ianuarie 2012</text>
<line x1="165.5" y1="306" x2="165.5" y2="309" stroke="#a6a6a6" stroke-width="1" />
<line x1="155.5" y1="306" x2="155.5" y2="307.5" stroke="#a6a6a6" stroke-width="1" />
<line x1="160.5" y1="306" x2="160.5" y2="307.5" stroke="#a6a6a6" stroke-width="1" />
<line x1="170.5" y1="306" x2="170.5" y2="307.5" stroke="#a6a6a6" stroke-width="1" />
<line x1="175.5" y1="306" x2="175.5" y2="307.5" stroke="#a6a6a6" stroke-width="1" />
<text transform="translate(163.38,317.5) rotate(45)" font-size="7.6" fill="#1e1e1e">Februarie 2012</text>
<line x1="190.5" y1="306" x2="190.5" y2="309" stroke="#a6a6a6" stroke-width="1" />
<line x1="180.5" y1="306" x2="180.5" y2="307.5" stroke="#a6a6a6" stroke-width="1" />
<line x1="185.5" y1="306" x2="185.5" y2="307.5" stroke="#a6a6a6" stroke-width="1" />
<line x1="195.5" y1="306" x2="195.5" y2="307.5" stroke="#a6a6a6" stroke-width="1" />
<line x1="200.5" y1="306" x2="200.5" y2="307.5" stroke="#a6a6a6" stroke-width="1" />
<text transform="translate(188.46,317.5) rotate(45)" font-size="7.6" fill="#1e1e1e">Martie 2012</text>
<line x1="215.5" y1="306" x2="215.5" y2="309" stroke="#a6a6a6" stroke-width="1" />
<line x1="205.5" y1="306" x2="205.5" y2="307.5" stroke="#a6a6a6" stroke-width="1" />
<line x1="210.5" y1="306" x2="210.5" y2="307.5" stroke="#a6a6a6" stroke-width="1" />
<line x1="220.5" y1="306" x2="220.5" y2="307.5" stroke="#a6a6a6" stroke-width="1" />
<line x1="225.5" y1="306" x2="225.5" y2="307.5" stroke="#a6a6a6" stroke-width="1" />
<text transform="translate(213.54,317.5) rotate(45)" font-size="7.6" fill="#1e1e1e">Aprilie 2012</text>
<line x1="240.5" y1="306" x2="240.5" y2="309" stroke="#a6a6a6" stroke-width="1" />
<line x1="230.5" y1="306" x2="230.5" y2="307.5" stroke="#a6a6a6" stroke-width="1" />
<line x1="235.5" y1="306" x2="235.5" y2="307.5" stroke="#a6a6a6" stroke-width="1" />
<line x1="245.5" y1="306" x2="245.5" y2="307.5" stroke="#a6a6a6" stroke-width="1" />
<line x1="250.5" y1="306" x2="250.5" y2="307.5" stroke="#a6a6a6" stroke-width="1" />
<text transform="translate(238.62,317.5) rotate(45)" font-size="7.6" fill="#1e1e1e">Mai 2012</text>
<line x1="265.5" y1="306" x2="265.5" y2="309" stroke="#a6a6a6" stroke-width="1" />
<line x1="255.5" y1="306" x2="255.5" y2="307.5" stroke="#a6a6a6" stroke-width="1" />
<line x1="260.5" y1="306" x2="260.5" y2="307.5" stroke="#a6a6a6" stroke-width="1" />
<line x1="270.5" y1="306" x2="270.5" y2="307.5" stroke="#a6a6a6" stroke-width="1" />
<line x1="275.5" y1="306" x2="275.5" y2="307.5" stroke="#a6a6a6" stroke-width="1" />
<text transform="translate(263.71,317.5) rotate(45)" font-size="7.6" fill="#1e1e1e">Iunie 2012</text>
<line x1="290.5" y1="306" x2="290.5" y2="309" stroke="#a6a6a6" stroke-width="1" />
<line x1="280.5" y1="306" x2="280.5" y2="307.5" stroke="#a6a6a6" stroke-width="1" />
<line x1="285.5" y1="306" x2="285.5" y2="307.5" stroke="#a6a6a6" stroke-width="1" />
<line x1="295.5" y1="306" x2="295.5" y2="307.5" stroke="#a6a6a6" stroke-width="1" />
<line x1="300.5" y1="306" x2="300.5" y2="307.5" stroke="#a6a6a6" stroke-width="1" />
<text transform="translate(288.79,317.5) rotate(45)" font-size="7.6" fill="#1e1e1e">Iulie 2012</text>
<line x1="315.5" y1="306" x2="315.5" y2="309" stroke="#a6a6a6" stroke-width="1" />
<line x1="305.5" y1="306" x2="305.5" y2="307.5" stroke="#a6a6a6" stroke-width="1" />
<line x1="310.5" y1="306" x2="310.5" y2="307.5" stroke="#a6a6a6" stroke-width="1" />
<line x1="320.5" y1="306" x2="320.5" y2="307.5" stroke="#a6a6a6" stroke-width="1" />
<line x1="325.5" y1="306" x2="325.5" y2="307.5" stroke="#a6a6a6" stroke-width="1" />
<text transform="translate(313.88,317.5) rotate(45)" font-size="7.6" fill="#1e1e1e">August 2012</text>
<line x1="340.5" y1="306" x2="340.5" y2="309" stroke="#a6a6a6" stroke-width="1" />
<line x1="330.5" y1="306" x2="330.5" y2="307.5" stroke="#a6a6a6" stroke-width="1" />
<line x1="335.5" y1="306" x2="335.5" y2="307.5" stroke="#a6a6a6" stroke-width="1" />
<line x1="345.5" y1="306" x2="345.5" y2="307.5" stroke="#a6a6a6" stroke-width="1" />
<line x1="350.5" y1="306" x2="350.5" y2="307.5" stroke="#a6a6a6" stroke-width="1" />
<text transform="translate(338.96,317.5) rotate(45)" font-size="7.6" fill="#1e1e1e">Septembrie 2012</text>
<line x1="49" y1="305.5" x2="52" y2="305.5" stroke="#a6a6a6" stroke-width="1" />
<text x="43.50" y="307.80" font-size="7.3" fill="#1e1e1e" text-anchor="end" >0</text>
<line x1="50.5" y1="299.5" x2="52" y2="299.5" stroke="#a6a6a6" stroke-width="1" />
<line x1="50.5" y1="293.5" x2="52" y2="293.5" stroke="#a6a6a6" stroke-width="1" />
<line x1="49" y1="288.5" x2="52" y2="288.5" stroke="#a6a6a6" stroke-width="1" />
<text x="43.50" y="290.87" font-size="7.3" fill="#1e1e1e" text-anchor="end" >2000</text>
<line x1="50.5" y1="282.5" x2="52" y2="282.5" stroke="#a6a6a6" stroke-width="1" />
<line x1="50.5" y1="276.5" x2="52" y2="276.5" stroke="#a6a6a6" stroke-width="1" />
<line x1="49" y1="271.5" x2="52" y2="271.5" stroke="#a6a6a6" stroke-width="1" />
<text x="43.50" y="273.94" font-size="7.3" fill="#1e1e1e" text-anchor="end" >4000</text>
<line x1="50.5" y1="265.5" x2="52" y2="265.5" stroke="#a6a6a6" stroke-width="1" />
<line x1="50.5" y1="260.5" x2="52" y2="260.5" stroke="#a6a6a6" stroke-width="1" />
<line x1="49" y1="254.5" x2="52" y2="254.5" stroke="#a6a6a6" stroke-width="1" />
<text x="43.50" y="257.01" font-size="7.3" fill="#1e1e1e" text-anchor="end" >6000</text>
<line x1="50.5" y1="248.5" x2="52" y2="248.5" stroke="#a6a6a6" stroke-width="1" />
<line x1="50.5" y1="243.5" x2="52" y2="243.5" stroke="#a6a6a6" stroke-width="1" />
<line x1="49" y1="237.5" x2="52" y2="237.5" stroke="#a6a6a6" stroke-width="1" />
<text x="43.50" y="240.08" font-size="7.3" fill="#1e1e1e" text-anchor="end" >8000</text>
<line x1="50.5" y1="231.5" x2="52" y2="231.5" stroke="#a6a6a6" stroke-width="1" />
<text transform="translate(22.8,266.50) rotate(-90)" font-size="11" fill="#1e1e1e" text-anchor="middle">Valoare (RON)</text>
<rect x="389.5" y="228.5" width="51" height="26" fill="#fff" stroke="#c2c2c2"/>
<rect x="392" y="230.6" width="11.8" height="9.2" fill="#5f497a" stroke="#4b3a62" stroke-width="0.6"/>
<rect x="392" y="242.8" width="11.8" height="9.2" fill="#b2a1c7" stroke="#9684b0" stroke-width="0.6"/>
<text x="407.00" y="238.00" font-size="7.3" fill="#1e1e1e" text-anchor="start" >Cheltuieli</text>
<text x="407.00" y="250.20" font-size="7.3" fill="#1e1e1e" text-anchor="start" >Venituri</text>
<line x1="496" y1="317.5" x2="827" y2="317.5" stroke="#e2e2e2" stroke-width="1" />
<line x1="496" y1="301.5" x2="827" y2="301.5" stroke="#e2e2e2" stroke-width="1" />
<line x1="496" y1="284.5" x2="827" y2="284.5" stroke="#e2e2e2" stroke-width="1" />
<line x1="496" y1="268.5" x2="827" y2="268.5" stroke="#e2e2e2" stroke-width="1" />
<line x1="496" y1="252.5" x2="827" y2="252.5" stroke="#e2e2e2" stroke-width="1" />
<line x1="496" y1="236.5" x2="827" y2="236.5" stroke="#e2e2e2" stroke-width="1" />
<line x1="496" y1="228.5" x2="827.5" y2="228.5" stroke="#e2e2e2" stroke-width="1" />
<line x1="827.5" y1="228" x2="827.5" y2="333" stroke="#e2e2e2" stroke-width="1" />
<polyline points="501.71,319.84 512.75,333.50 523.77,292.52 534.80,332.55 545.84,333.50 556.87,333.50 567.89,333.50 578.92,333.50 589.95,333.50 600.99,333.50 612.01,238.28 623.04,319.04 634.08,332.47 645.11,333.50 656.13,333.50 667.16,333.50 678.19,333.50 689.22,333.50 700.25,333.50 711.28,333.50 722.31,333.50 733.35,333.50 744.38,333.50 755.40,333.50 766.43,333.50 777.46,333.50 788.49,333.50 799.52,333.50 810.55,333.50 821.59,333.50" fill="none" stroke="#5a8ac6" stroke-width="1.6" clip-path="url(#clipBR)"/>
<circle cx="501.71" cy="319.84" r="3.5" fill="#4f81bd" clip-path="url(#clipBR)"/>
<circle cx="512.75" cy="333.50" r="3.5" fill="#4f81bd" clip-path="url(#clipBR)"/>
<circle cx="523.77" cy="292.52" r="3.5" fill="#4f81bd" clip-path="url(#clipBR)"/>
<circle cx="534.80" cy="332.55" r="3.5" fill="#4f81bd" clip-path="url(#clipBR)"/>
<circle cx="545.84" cy="333.50" r="3.5" fill="#4f81bd" clip-path="url(#clipBR)"/>
<circle cx="556.87" cy="333.50" r="3.5" fill="#4f81bd" clip-path="url(#clipBR)"/>
<circle cx="567.89" cy="333.50" r="3.5" fill="#4f81bd" clip-path="url(#clipBR)"/>
<circle cx="578.92" cy="333.50" r="3.5" fill="#4f81bd" clip-path="url(#clipBR)"/>
<circle cx="589.95" cy="333.50" r="3.5" fill="#4f81bd" clip-path="url(#clipBR)"/>
<circle cx="600.99" cy="333.50" r="3.5" fill="#4f81bd" clip-path="url(#clipBR)"/>
<circle cx="612.01" cy="238.28" r="3.5" fill="#4f81bd" clip-path="url(#clipBR)"/>
<circle cx="623.04" cy="319.04" r="3.5" fill="#4f81bd" clip-path="url(#clipBR)"/>
<circle cx="634.08" cy="332.47" r="3.5" fill="#4f81bd" clip-path="url(#clipBR)"/>
<circle cx="645.11" cy="333.50" r="3.5" fill="#4f81bd" clip-path="url(#clipBR)"/>
<circle cx="656.13" cy="333.50" r="3.5" fill="#4f81bd" clip-path="url(#clipBR)"/>
<circle cx="667.16" cy="333.50" r="3.5" fill="#4f81bd" clip-path="url(#clipBR)"/>
<circle cx="678.19" cy="333.50" r="3.5" fill="#4f81bd" clip-path="url(#clipBR)"/>
<circle cx="689.22" cy="333.50" r="3.5" fill="#4f81bd" clip-path="url(#clipBR)"/>
<circle cx="700.25" cy="333.50" r="3.5" fill="#4f81bd" clip-path="url(#clipBR)"/>
<circle cx="711.28" cy="333.50" r="3.5" fill="#4f81bd" clip-path="url(#clipBR)"/>
<circle cx="722.31" cy="333.50" r="3.5" fill="#4f81bd" clip-path="url(#clipBR)"/>
<circle cx="733.35" cy="333.50" r="3.5" fill="#4f81bd" clip-path="url(#clipBR)"/>
<circle cx="744.38" cy="333.50" r="3.5" fill="#4f81bd" clip-path="url(#clipBR)"/>
<circle cx="755.40" cy="333.50" r="3.5" fill="#4f81bd" clip-path="url(#clipBR)"/>
<circle cx="766.43" cy="333.50" r="3.5" fill="#4f81bd" clip-path="url(#clipBR)"/>
<circle cx="777.46" cy="333.50" r="3.5" fill="#4f81bd" clip-path="url(#clipBR)"/>
<circle cx="788.49" cy="333.50" r="3.5" fill="#4f81bd" clip-path="url(#clipBR)"/>
<circle cx="799.52" cy="333.50" r="3.5" fill="#4f81bd" clip-path="url(#clipBR)"/>
<circle cx="810.55" cy="333.50" r="3.5" fill="#4f81bd" clip-path="url(#clipBR)"/>
<circle cx="821.59" cy="333.50" r="3.5" fill="#4f81bd" clip-path="url(#clipBR)"/>
<polyline points="501.71,333.50 512.75,333.50 523.77,315.68 534.80,333.50 545.84,333.50 556.87,333.50 567.89,333.50 578.92,333.50 589.95,333.50 600.99,325.40 612.01,333.50 623.04,311.20 634.08,333.50 645.11,333.50 656.13,333.50 667.16,333.50 678.19,333.50 689.22,333.50 700.25,333.50 711.28,333.50 722.31,333.50 733.35,333.50 744.38,333.50 755.40,333.50 766.43,333.50 777.46,333.50 788.49,333.50 799.52,333.50 810.55,333.50 821.59,333.50" fill="none" stroke="#c0504d" stroke-width="1.6" clip-path="url(#clipBR)"/>
<circle cx="501.71" cy="333.50" r="3.5" fill="#c0504d" clip-path="url(#clipBR)"/>
<circle cx="512.75" cy="333.50" r="3.5" fill="#c0504d" clip-path="url(#clipBR)"/>
<circle cx="523.77" cy="315.68" r="3.5" fill="#c0504d" clip-path="url(#clipBR)"/>
<circle cx="534.80" cy="333.50" r="3.5" fill="#c0504d" clip-path="url(#clipBR)"/>
<circle cx="545.84" cy="333.50" r="3.5" fill="#c0504d" clip-path="url(#clipBR)"/>
<circle cx="556.87" cy="333.50" r="3.5" fill="#c0504d" clip-path="url(#clipBR)"/>
<circle cx="567.89" cy="333.50" r="3.5" fill="#c0504d" clip-path="url(#clipBR)"/>
<circle cx="578.92" cy="333.50" r="3.5" fill="#c0504d" clip-path="url(#clipBR)"/>
<circle cx="589.95" cy="333.50" r="3.5" fill="#c0504d" clip-path="url(#clipBR)"/>
<circle cx="600.99" cy="325.40" r="3.5" fill="#c0504d" clip-path="url(#clipBR)"/>
<circle cx="612.01" cy="333.50" r="3.5" fill="#c0504d" clip-path="url(#clipBR)"/>
<circle cx="623.04" cy="311.20" r="3.5" fill="#c0504d" clip-path="url(#clipBR)"/>
<circle cx="634.08" cy="333.50" r="3.5" fill="#c0504d" clip-path="url(#clipBR)"/>
<circle cx="645.11" cy="333.50" r="3.5" fill="#c0504d" clip-path="url(#clipBR)"/>
<circle cx="656.13" cy="333.50" r="3.5" fill="#c0504d" clip-path="url(#clipBR)"/>
<circle cx="667.16" cy="333.50" r="3.5" fill="#c0504d" clip-path="url(#clipBR)"/>
<circle cx="678.19" cy="333.50" r="3.5" fill="#c0504d" clip-path="url(#clipBR)"/>
<circle cx="689.22" cy="333.50" r="3.5" fill="#c0504d" clip-path="url(#clipBR)"/>
<circle cx="700.25" cy="333.50" r="3.5" fill="#c0504d" clip-path="url(#clipBR)"/>
<circle cx="711.28" cy="333.50" r="3.5" fill="#c0504d" clip-path="url(#clipBR)"/>
<circle cx="722.31" cy="333.50" r="3.5" fill="#c0504d" clip-path="url(#clipBR)"/>
<circle cx="733.35" cy="333.50" r="3.5" fill="#c0504d" clip-path="url(#clipBR)"/>
<circle cx="744.38" cy="333.50" r="3.5" fill="#c0504d" clip-path="url(#clipBR)"/>
<circle cx="755.40" cy="333.50" r="3.5" fill="#c0504d" clip-path="url(#clipBR)"/>
<circle cx="766.43" cy="333.50" r="3.5" fill="#c0504d" clip-path="url(#clipBR)"/>
<circle cx="777.46" cy="333.50" r="3.5" fill="#c0504d" clip-path="url(#clipBR)"/>
<circle cx="788.49" cy="333.50" r="3.5" fill="#c0504d" clip-path="url(#clipBR)"/>
<circle cx="799.52" cy="333.50" r="3.5" fill="#c0504d" clip-path="url(#clipBR)"/>
<circle cx="810.55" cy="333.50" r="3.5" fill="#c0504d" clip-path="url(#clipBR)"/>
<circle cx="821.59" cy="333.50" r="3.5" fill="#c0504d" clip-path="url(#clipBR)"/>
<line x1="496.5" y1="228" x2="496.5" y2="334" stroke="#a8a8a8" stroke-width="1" />
<line x1="496" y1="333.5" x2="828" y2="333.5" stroke="#a8a8a8" stroke-width="1" />
<text x="507.21" y="313.54" font-size="7.5" fill="#56708e" text-anchor="start" >843,2</text>
<text x="518.25" y="327.20" font-size="7.5" fill="#56708e" text-anchor="start" >0</text>
<text x="529.27" y="286.22" font-size="7.5" fill="#56708e" text-anchor="start" >2529,6</text>
<text x="540.30" y="326.25" font-size="7.5" fill="#56708e" text-anchor="start" >58,87</text>
<text x="551.34" y="327.20" font-size="7.5" fill="#56708e" text-anchor="start" >0</text>
<text x="562.37" y="327.20" font-size="7.5" fill="#56708e" text-anchor="start" >0</text>
<text x="573.39" y="327.20" font-size="7.5" fill="#56708e" text-anchor="start" >0</text>
<text x="584.42" y="327.20" font-size="7.5" fill="#56708e" text-anchor="start" >0</text>
<text x="595.45" y="327.20" font-size="7.5" fill="#56708e" text-anchor="start" >0</text>
<text x="606.49" y="327.20" font-size="7.5" fill="#56708e" text-anchor="start" >0</text>
<text x="617.51" y="231.98" font-size="7.5" fill="#56708e" text-anchor="start" >5877,96</text>
<text x="628.54" y="312.74" font-size="7.5" fill="#56708e" text-anchor="start" >892,8</text>
<text x="639.58" y="326.17" font-size="7.5" fill="#56708e" text-anchor="start" >63,87</text>
<text x="650.61" y="327.20" font-size="7.5" fill="#56708e" text-anchor="start" >0</text>
<text x="661.63" y="327.20" font-size="7.5" fill="#56708e" text-anchor="start" >0</text>
<text x="672.66" y="327.20" font-size="7.5" fill="#56708e" text-anchor="start" >0</text>
<text x="683.69" y="327.20" font-size="7.5" fill="#56708e" text-anchor="start" >0</text>
<text x="694.72" y="327.20" font-size="7.5" fill="#56708e" text-anchor="start" >0</text>
<text x="705.75" y="327.20" font-size="7.5" fill="#56708e" text-anchor="start" >0</text>
<text x="716.78" y="327.20" font-size="7.5" fill="#56708e" text-anchor="start" >0</text>
<text x="727.81" y="327.20" font-size="7.5" fill="#56708e" text-anchor="start" >0</text>
<text x="738.85" y="327.20" font-size="7.5" fill="#56708e" text-anchor="start" >0</text>
<text x="749.88" y="327.20" font-size="7.5" fill="#56708e" text-anchor="start" >0</text>
<text x="760.90" y="327.20" font-size="7.5" fill="#56708e" text-anchor="start" >0</text>
<text x="771.93" y="327.20" font-size="7.5" fill="#56708e" text-anchor="start" >0</text>
<text x="782.96" y="327.20" font-size="7.5" fill="#56708e" text-anchor="start" >0</text>
<text x="793.99" y="327.20" font-size="7.5" fill="#56708e" text-anchor="start" >0</text>
<text x="805.02" y="327.20" font-size="7.5" fill="#56708e" text-anchor="start" >0</text>
<text x="816.05" y="327.20" font-size="7.5" fill="#56708e" text-anchor="start" >0</text>
<text x="827.09" y="327.20" font-size="7.5" fill="#56708e" text-anchor="start" >0</text>
<text x="507.21" y="327.20" font-size="7.5" fill="#8e4a48" text-anchor="start" >0</text>
<text x="518.25" y="327.20" font-size="7.5" fill="#8e4a48" text-anchor="start" >0</text>
<text x="529.27" y="309.38" font-size="7.5" fill="#8e4a48" text-anchor="start" >1100</text>
<text x="540.30" y="327.20" font-size="7.5" fill="#8e4a48" text-anchor="start" >0</text>
<text x="551.34" y="327.20" font-size="7.5" fill="#8e4a48" text-anchor="start" >0</text>
<text x="562.37" y="327.20" font-size="7.5" fill="#8e4a48" text-anchor="start" >0</text>
<text x="573.39" y="327.20" font-size="7.5" fill="#8e4a48" text-anchor="start" >0</text>
<text x="584.42" y="327.20" font-size="7.5" fill="#8e4a48" text-anchor="start" >0</text>
<text x="595.45" y="327.20" font-size="7.5" fill="#8e4a48" text-anchor="start" >0</text>
<text x="606.49" y="319.10" font-size="7.5" fill="#8e4a48" text-anchor="start" >500</text>
<text x="617.51" y="327.20" font-size="7.5" fill="#8e4a48" text-anchor="start" >0</text>
<text x="628.54" y="304.90" font-size="7.5" fill="#8e4a48" text-anchor="start" >1376,4</text>
<text x="639.58" y="327.20" font-size="7.5" fill="#8e4a48" text-anchor="start" >0</text>
<text x="650.61" y="327.20" font-size="7.5" fill="#8e4a48" text-anchor="start" >0</text>
<text x="661.63" y="327.20" font-size="7.5" fill="#8e4a48" text-anchor="start" >0</text>
<text x="672.66" y="327.20" font-size="7.5" fill="#8e4a48" text-anchor="start" >0</text>
<text x="683.69" y="327.20" font-size="7.5" fill="#8e4a48" text-anchor="start" >0</text>
<text x="694.72" y="327.20" font-size="7.5" fill="#8e4a48" text-anchor="start" >0</text>
<text x="705.75" y="327.20" font-size="7.5" fill="#8e4a48" text-anchor="start" >0</text>
<text x="716.78" y="327.20" font-size="7.5" fill="#8e4a48" text-anchor="start" >0</text>
<text x="727.81" y="327.20" font-size="7.5" fill="#8e4a48" text-anchor="start" >0</text>
<text x="738.85" y="327.20" font-size="7.5" fill="#8e4a48" text-anchor="start" >0</text>
<text x="749.88" y="327.20" font-size="7.5" fill="#8e4a48" text-anchor="start" >0</text>
<text x="760.90" y="327.20" font-size="7.5" fill="#8e4a48" text-anchor="start" >0</text>
<text x="771.93" y="327.20" font-size="7.5" fill="#8e4a48" text-anchor="start" >0</text>
<text x="782.96" y="327.20" font-size="7.5" fill="#8e4a48" text-anchor="start" >0</text>
<text x="793.99" y="327.20" font-size="7.5" fill="#8e4a48" text-anchor="start" >0</text>
<text x="805.02" y="327.20" font-size="7.5" fill="#8e4a48" text-anchor="start" >0</text>
<text x="816.05" y="327.20" font-size="7.5" fill="#8e4a48" text-anchor="start" >0</text>
<text x="827.09" y="327.20" font-size="7.5" fill="#8e4a48" text-anchor="start" >0</text>
<line x1="501.5" y1="334" x2="501.5" y2="337" stroke="#a6a6a6" stroke-width="1" />
<line x1="503.5" y1="334" x2="503.5" y2="335.5" stroke="#a6a6a6" stroke-width="1" />
<line x1="506.5" y1="334" x2="506.5" y2="335.5" stroke="#a6a6a6" stroke-width="1" />
<line x1="508.5" y1="334" x2="508.5" y2="335.5" stroke="#a6a6a6" stroke-width="1" />
<line x1="510.5" y1="334" x2="510.5" y2="335.5" stroke="#a6a6a6" stroke-width="1" />
<text x="501.71" y="347.20" font-size="7.3" fill="#1e1e1e" text-anchor="middle" >1</text>
<line x1="512.5" y1="334" x2="512.5" y2="337" stroke="#a6a6a6" stroke-width="1" />
<line x1="514.5" y1="334" x2="514.5" y2="335.5" stroke="#a6a6a6" stroke-width="1" />
<line x1="517.5" y1="334" x2="517.5" y2="335.5" stroke="#a6a6a6" stroke-width="1" />
<line x1="519.5" y1="334" x2="519.5" y2="335.5" stroke="#a6a6a6" stroke-width="1" />
<line x1="521.5" y1="334" x2="521.5" y2="335.5" stroke="#a6a6a6" stroke-width="1" />
<text x="512.75" y="357.80" font-size="7.3" fill="#1e1e1e" text-anchor="middle" >2</text>
<line x1="523.5" y1="334" x2="523.5" y2="337" stroke="#a6a6a6" stroke-width="1" />
<line x1="525.5" y1="334" x2="525.5" y2="335.5" stroke="#a6a6a6" stroke-width="1" />
<line x1="528.5" y1="334" x2="528.5" y2="335.5" stroke="#a6a6a6" stroke-width="1" />
<line x1="530.5" y1="334" x2="530.5" y2="335.5" stroke="#a6a6a6" stroke-width="1" />
<line x1="532.5" y1="334" x2="532.5" y2="335.5" stroke="#a6a6a6" stroke-width="1" />
<text x="523.77" y="347.20" font-size="7.3" fill="#1e1e1e" text-anchor="middle" >3</text>
<line x1="534.5" y1="334" x2="534.5" y2="337" stroke="#a6a6a6" stroke-width="1" />
<line x1="537.5" y1="334" x2="537.5" y2="335.5" stroke="#a6a6a6" stroke-width="1" />
<line x1="539.5" y1="334" x2="539.5" y2="335.5" stroke="#a6a6a6" stroke-width="1" />
<line x1="541.5" y1="334" x2="541.5" y2="335.5" stroke="#a6a6a6" stroke-width="1" />
<line x1="543.5" y1="334" x2="543.5" y2="335.5" stroke="#a6a6a6" stroke-width="1" />
<text x="534.80" y="357.80" font-size="7.3" fill="#1e1e1e" text-anchor="middle" >4</text>
<line x1="545.5" y1="334" x2="545.5" y2="337" stroke="#a6a6a6" stroke-width="1" />
<line x1="548.5" y1="334" x2="548.5" y2="335.5" stroke="#a6a6a6" stroke-width="1" />
<line x1="550.5" y1="334" x2="550.5" y2="335.5" stroke="#a6a6a6" stroke-width="1" />
<line x1="552.5" y1="334" x2="552.5" y2="335.5" stroke="#a6a6a6" stroke-width="1" />
<line x1="554.5" y1="334" x2="554.5" y2="335.5" stroke="#a6a6a6" stroke-width="1" />
<text x="545.84" y="347.20" font-size="7.3" fill="#1e1e1e" text-anchor="middle" >5</text>
<line x1="556.5" y1="334" x2="556.5" y2="337" stroke="#a6a6a6" stroke-width="1" />
<line x1="559.5" y1="334" x2="559.5" y2="335.5" stroke="#a6a6a6" stroke-width="1" />
<line x1="561.5" y1="334" x2="561.5" y2="335.5" stroke="#a6a6a6" stroke-width="1" />
<line x1="563.5" y1="334" x2="563.5" y2="335.5" stroke="#a6a6a6" stroke-width="1" />
<line x1="565.5" y1="334" x2="565.5" y2="335.5" stroke="#a6a6a6" stroke-width="1" />
<text x="556.87" y="357.80" font-size="7.3" fill="#1e1e1e" text-anchor="middle" >6</text>
<line x1="567.5" y1="334" x2="567.5" y2="337" stroke="#a6a6a6" stroke-width="1" />
<line x1="570.5" y1="334" x2="570.5" y2="335.5" stroke="#a6a6a6" stroke-width="1" />
<line x1="572.5" y1="334" x2="572.5" y2="335.5" stroke="#a6a6a6" stroke-width="1" />
<line x1="574.5" y1="334" x2="574.5" y2="335.5" stroke="#a6a6a6" stroke-width="1" />
<line x1="576.5" y1="334" x2="576.5" y2="335.5" stroke="#a6a6a6" stroke-width="1" />
<text x="567.89" y="347.20" font-size="7.3" fill="#1e1e1e" text-anchor="middle" >7</text>
<line x1="578.5" y1="334" x2="578.5" y2="337" stroke="#a6a6a6" stroke-width="1" />
<line x1="581.5" y1="334" x2="581.5" y2="335.5" stroke="#a6a6a6" stroke-width="1" />
<line x1="583.5" y1="334" x2="583.5" y2="335.5" stroke="#a6a6a6" stroke-width="1" />
<line x1="585.5" y1="334" x2="585.5" y2="335.5" stroke="#a6a6a6" stroke-width="1" />
<line x1="587.5" y1="334" x2="587.5" y2="335.5" stroke="#a6a6a6" stroke-width="1" />
<text x="578.92" y="357.80" font-size="7.3" fill="#1e1e1e" text-anchor="middle" >8</text>
<line x1="589.5" y1="334" x2="589.5" y2="337" stroke="#a6a6a6" stroke-width="1" />
<line x1="592.5" y1="334" x2="592.5" y2="335.5" stroke="#a6a6a6" stroke-width="1" />
<line x1="594.5" y1="334" x2="594.5" y2="335.5" stroke="#a6a6a6" stroke-width="1" />
<line x1="596.5" y1="334" x2="596.5" y2="335.5" stroke="#a6a6a6" stroke-width="1" />
<line x1="598.5" y1="334" x2="598.5" y2="335.5" stroke="#a6a6a6" stroke-width="1" />
<text x="589.95" y="347.20" font-size="7.3" fill="#1e1e1e" text-anchor="middle" >9</text>
<line x1="600.5" y1="334" x2="600.5" y2="337" stroke="#a6a6a6" stroke-width="1" />
<line x1="603.5" y1="334" x2="603.5" y2="335.5" stroke="#a6a6a6" stroke-width="1" />
<line x1="605.5" y1="334" x2="605.5" y2="335.5" stroke="#a6a6a6" stroke-width="1" />
<line x1="607.5" y1="334" x2="607.5" y2="335.5" stroke="#a6a6a6" stroke-width="1" />
<line x1="609.5" y1="334" x2="609.5" y2="335.5" stroke="#a6a6a6" stroke-width="1" />
<text x="600.99" y="357.80" font-size="7.3" fill="#1e1e1e" text-anchor="middle" >10</text>
<line x1="612.5" y1="334" x2="612.5" y2="337" stroke="#a6a6a6" stroke-width="1" />
<line x1="614.5" y1="334" x2="614.5" y2="335.5" stroke="#a6a6a6" stroke-width="1" />
<line x1="616.5" y1="334" x2="616.5" y2="335.5" stroke="#a6a6a6" stroke-width="1" />
<line x1="618.5" y1="334" x2="618.5" y2="335.5" stroke="#a6a6a6" stroke-width="1" />
<line x1="620.5" y1="334" x2="620.5" y2="335.5" stroke="#a6a6a6" stroke-width="1" />
<text x="612.01" y="347.20" font-size="7.3" fill="#1e1e1e" text-anchor="middle" >11</text>
<line x1="623.5" y1="334" x2="623.5" y2="337" stroke="#a6a6a6" stroke-width="1" />
<line x1="625.5" y1="334" x2="625.5" y2="335.5" stroke="#a6a6a6" stroke-width="1" />
<line x1="627.5" y1="334" x2="627.5" y2="335.5" stroke="#a6a6a6" stroke-width="1" />
<line x1="629.5" y1="334" x2="629.5" y2="335.5" stroke="#a6a6a6" stroke-width="1" />
<line x1="631.5" y1="334" x2="631.5" y2="335.5" stroke="#a6a6a6" stroke-width="1" />
<text x="623.04" y="357.80" font-size="7.3" fill="#1e1e1e" text-anchor="middle" >12</text>
<line x1="634.5" y1="334" x2="634.5" y2="337" stroke="#a6a6a6" stroke-width="1" />
<line x1="636.5" y1="334" x2="636.5" y2="335.5" stroke="#a6a6a6" stroke-width="1" />
<line x1="638.5" y1="334" x2="638.5" y2="335.5" stroke="#a6a6a6" stroke-width="1" />
<line x1="640.5" y1="334" x2="640.5" y2="335.5" stroke="#a6a6a6" stroke-width="1" />
<line x1="642.5" y1="334" x2="642.5" y2="335.5" stroke="#a6a6a6" stroke-width="1" />
<text x="634.08" y="347.20" font-size="7.3" fill="#1e1e1e" text-anchor="middle" >13</text>
<line x1="645.5" y1="334" x2="645.5" y2="337" stroke="#a6a6a6" stroke-width="1" />
<line x1="647.5" y1="334" x2="647.5" y2="335.5" stroke="#a6a6a6" stroke-width="1" />
<line x1="649.5" y1="334" x2="649.5" y2="335.5" stroke="#a6a6a6" stroke-width="1" />
<line x1="651.5" y1="334" x2="651.5" y2="335.5" stroke="#a6a6a6" stroke-width="1" />
<line x1="653.5" y1="334" x2="653.5" y2="335.5" stroke="#a6a6a6" stroke-width="1" />
<text x="645.11" y="357.80" font-size="7.3" fill="#1e1e1e" text-anchor="middle" >14</text>
<line x1="656.5" y1="334" x2="656.5" y2="337" stroke="#a6a6a6" stroke-width="1" />
<line x1="658.5" y1="334" x2="658.5" y2="335.5" stroke="#a6a6a6" stroke-width="1" />
<line x1="660.5" y1="334" x2="660.5" y2="335.5" stroke="#a6a6a6" stroke-width="1" />
<line x1="662.5" y1="334" x2="662.5" y2="335.5" stroke="#a6a6a6" stroke-width="1" />
<line x1="664.5" y1="334" x2="664.5" y2="335.5" stroke="#a6a6a6" stroke-width="1" />
<text x="656.13" y="347.20" font-size="7.3" fill="#1e1e1e" text-anchor="middle" >15</text>
<line x1="667.5" y1="334" x2="667.5" y2="337" stroke="#a6a6a6" stroke-width="1" />
<line x1="669.5" y1="334" x2="669.5" y2="335.5" stroke="#a6a6a6" stroke-width="1" />
<line x1="671.5" y1="334" x2="671.5" y2="335.5" stroke="#a6a6a6" stroke-width="1" />
<line x1="673.5" y1="334" x2="673.5" y2="335.5" stroke="#a6a6a6" stroke-width="1" />
<line x1="675.5" y1="334" x2="675.5" y2="335.5" stroke="#a6a6a6" stroke-width="1" />
<text x="667.16" y="357.80" font-size="7.3" fill="#1e1e1e" text-anchor="middle" >16</text>
<line x1="678.5" y1="334" x2="678.5" y2="337" stroke="#a6a6a6" stroke-width="1" />
<line x1="680.5" y1="334" x2="680.5" y2="335.5" stroke="#a6a6a6" stroke-width="1" />
<line x1="682.5" y1="334" x2="682.5" y2="335.5" stroke="#a6a6a6" stroke-width="1" />
<line x1="684.5" y1="334" x2="684.5" y2="335.5" stroke="#a6a6a6" stroke-width="1" />
<line x1="687.5" y1="334" x2="687.5" y2="335.5" stroke="#a6a6a6" stroke-width="1" />
<text x="678.19" y="347.20" font-size="7.3" fill="#1e1e1e" text-anchor="middle" >17</text>
<line x1="689.5" y1="334" x2="689.5" y2="337" stroke="#a6a6a6" stroke-width="1" />
<line x1="691.5" y1="334" x2="691.5" y2="335.5" stroke="#a6a6a6" stroke-width="1" />
<line x1="693.5" y1="334" x2="693.5" y2="335.5" stroke="#a6a6a6" stroke-width="1" />
<line x1="695.5" y1="334" x2="695.5" y2="335.5" stroke="#a6a6a6" stroke-width="1" />
<line x1="698.5" y1="334" x2="698.5" y2="335.5" stroke="#a6a6a6" stroke-width="1" />
<text x="689.22" y="357.80" font-size="7.3" fill="#1e1e1e" text-anchor="middle" >18</text>
<line x1="700.5" y1="334" x2="700.5" y2="337" stroke="#a6a6a6" stroke-width="1" />
<line x1="702.5" y1="334" x2="702.5" y2="335.5" stroke="#a6a6a6" stroke-width="1" />
<line x1="704.5" y1="334" x2="704.5" y2="335.5" stroke="#a6a6a6" stroke-width="1" />
<line x1="706.5" y1="334" x2="706.5" y2="335.5" stroke="#a6a6a6" stroke-width="1" />
<line x1="709.5" y1="334" x2="709.5" y2="335.5" stroke="#a6a6a6" stroke-width="1" />
<text x="700.25" y="347.20" font-size="7.3" fill="#1e1e1e" text-anchor="middle" >19</text>
<line x1="711.5" y1="334" x2="711.5" y2="337" stroke="#a6a6a6" stroke-width="1" />
<line x1="713.5" y1="334" x2="713.5" y2="335.5" stroke="#a6a6a6" stroke-width="1" />
<line x1="715.5" y1="334" x2="715.5" y2="335.5" stroke="#a6a6a6" stroke-width="1" />
<line x1="717.5" y1="334" x2="717.5" y2="335.5" stroke="#a6a6a6" stroke-width="1" />
<line x1="720.5" y1="334" x2="720.5" y2="335.5" stroke="#a6a6a6" stroke-width="1" />
<text x="711.28" y="357.80" font-size="7.3" fill="#1e1e1e" text-anchor="middle" >20</text>
<line x1="722.5" y1="334" x2="722.5" y2="337" stroke="#a6a6a6" stroke-width="1" />
<line x1="724.5" y1="334" x2="724.5" y2="335.5" stroke="#a6a6a6" stroke-width="1" />
<line x1="726.5" y1="334" x2="726.5" y2="335.5" stroke="#a6a6a6" stroke-width="1" />
<line x1="728.5" y1="334" x2="728.5" y2="335.5" stroke="#a6a6a6" stroke-width="1" />
<line x1="731.5" y1="334" x2="731.5" y2="335.5" stroke="#a6a6a6" stroke-width="1" />
<text x="722.31" y="347.20" font-size="7.3" fill="#1e1e1e" text-anchor="middle" >21</text>
<line x1="733.5" y1="334" x2="733.5" y2="337" stroke="#a6a6a6" stroke-width="1" />
<line x1="735.5" y1="334" x2="735.5" y2="335.5" stroke="#a6a6a6" stroke-width="1" />
<line x1="737.5" y1="334" x2="737.5" y2="335.5" stroke="#a6a6a6" stroke-width="1" />
<line x1="739.5" y1="334" x2="739.5" y2="335.5" stroke="#a6a6a6" stroke-width="1" />
<line x1="742.5" y1="334" x2="742.5" y2="335.5" stroke="#a6a6a6" stroke-width="1" />
<text x="733.35" y="357.80" font-size="7.3" fill="#1e1e1e" text-anchor="middle" >22</text>
<line x1="744.5" y1="334" x2="744.5" y2="337" stroke="#a6a6a6" stroke-width="1" />
<line x1="746.5" y1="334" x2="746.5" y2="335.5" stroke="#a6a6a6" stroke-width="1" />
<line x1="748.5" y1="334" x2="748.5" y2="335.5" stroke="#a6a6a6" stroke-width="1" />
<line x1="750.5" y1="334" x2="750.5" y2="335.5" stroke="#a6a6a6" stroke-width="1" />
<line x1="753.5" y1="334" x2="753.5" y2="335.5" stroke="#a6a6a6" stroke-width="1" />
<text x="744.38" y="347.20" font-size="7.3" fill="#1e1e1e" text-anchor="middle" >23</text>
<line x1="755.5" y1="334" x2="755.5" y2="337" stroke="#a6a6a6" stroke-width="1" />
<line x1="757.5" y1="334" x2="757.5" y2="335.5" stroke="#a6a6a6" stroke-width="1" />
<line x1="759.5" y1="334" x2="759.5" y2="335.5" stroke="#a6a6a6" stroke-width="1" />
<line x1="762.5" y1="334" x2="762.5" y2="335.5" stroke="#a6a6a6" stroke-width="1" />
<line x1="764.5" y1="334" x2="764.5" y2="335.5" stroke="#a6a6a6" stroke-width="1" />
<text x="755.40" y="357.80" font-size="7.3" fill="#1e1e1e" text-anchor="middle" >24</text>
<line x1="766.5" y1="334" x2="766.5" y2="337" stroke="#a6a6a6" stroke-width="1" />
<line x1="768.5" y1="334" x2="768.5" y2="335.5" stroke="#a6a6a6" stroke-width="1" />
<line x1="770.5" y1="334" x2="770.5" y2="335.5" stroke="#a6a6a6" stroke-width="1" />
<line x1="773.5" y1="334" x2="773.5" y2="335.5" stroke="#a6a6a6" stroke-width="1" />
<line x1="775.5" y1="334" x2="775.5" y2="335.5" stroke="#a6a6a6" stroke-width="1" />
<text x="766.43" y="347.20" font-size="7.3" fill="#1e1e1e" text-anchor="middle" >25</text>
<line x1="777.5" y1="334" x2="777.5" y2="337" stroke="#a6a6a6" stroke-width="1" />
<line x1="779.5" y1="334" x2="779.5" y2="335.5" stroke="#a6a6a6" stroke-width="1" />
<line x1="781.5" y1="334" x2="781.5" y2="335.5" stroke="#a6a6a6" stroke-width="1" />
<line x1="784.5" y1="334" x2="784.5" y2="335.5" stroke="#a6a6a6" stroke-width="1" />
<line x1="786.5" y1="334" x2="786.5" y2="335.5" stroke="#a6a6a6" stroke-width="1" />
<text x="777.46" y="357.80" font-size="7.3" fill="#1e1e1e" text-anchor="middle" >26</text>
<line x1="788.5" y1="334" x2="788.5" y2="337" stroke="#a6a6a6" stroke-width="1" />
<line x1="790.5" y1="334" x2="790.5" y2="335.5" stroke="#a6a6a6" stroke-width="1" />
<line x1="792.5" y1="334" x2="792.5" y2="335.5" stroke="#a6a6a6" stroke-width="1" />
<line x1="795.5" y1="334" x2="795.5" y2="335.5" stroke="#a6a6a6" stroke-width="1" />
<line x1="797.5" y1="334" x2="797.5" y2="335.5" stroke="#a6a6a6" stroke-width="1" />
<text x="788.49" y="347.20" font-size="7.3" fill="#1e1e1e" text-anchor="middle" >27</text>
<line x1="799.5" y1="334" x2="799.5" y2="337" stroke="#a6a6a6" stroke-width="1" />
<line x1="801.5" y1="334" x2="801.5" y2="335.5" stroke="#a6a6a6" stroke-width="1" />
<line x1="803.5" y1="334" x2="803.5" y2="335.5" stroke="#a6a6a6" stroke-width="1" />
<line x1="806.5" y1="334" x2="806.5" y2="335.5" stroke="#a6a6a6" stroke-width="1" />
<line x1="808.5" y1="334" x2="808.5" y2="335.5" stroke="#a6a6a6" stroke-width="1" />
<text x="799.52" y="357.80" font-size="7.3" fill="#1e1e1e" text-anchor="middle" >28</text>
<line x1="810.5" y1="334" x2="810.5" y2="337" stroke="#a6a6a6" stroke-width="1" />
<line x1="812.5" y1="334" x2="812.5" y2="335.5" stroke="#a6a6a6" stroke-width="1" />
<line x1="814.5" y1="334" x2="814.5" y2="335.5" stroke="#a6a6a6" stroke-width="1" />
<line x1="817.5" y1="334" x2="817.5" y2="335.5" stroke="#a6a6a6" stroke-width="1" />
<line x1="819.5" y1="334" x2="819.5" y2="335.5" stroke="#a6a6a6" stroke-width="1" />
<text x="810.55" y="347.20" font-size="7.3" fill="#1e1e1e" text-anchor="middle" >29</text>
<line x1="821.5" y1="334" x2="821.5" y2="337" stroke="#a6a6a6" stroke-width="1" />
<line x1="823.5" y1="334" x2="823.5" y2="335.5" stroke="#a6a6a6" stroke-width="1" />
<line x1="825.5" y1="334" x2="825.5" y2="335.5" stroke="#a6a6a6" stroke-width="1" />
<text x="821.59" y="357.80" font-size="7.3" fill="#1e1e1e" text-anchor="middle" >30</text>
<line x1="493" y1="333.5" x2="496" y2="333.5" stroke="#a6a6a6" stroke-width="1" />
<text x="487.50" y="336.10" font-size="7.3" fill="#1e1e1e" text-anchor="end" >0</text>
<line x1="494.5" y1="328.5" x2="496" y2="328.5" stroke="#a6a6a6" stroke-width="1" />
<line x1="494.5" y1="322.5" x2="496" y2="322.5" stroke="#a6a6a6" stroke-width="1" />
<line x1="493" y1="317.5" x2="496" y2="317.5" stroke="#a6a6a6" stroke-width="1" />
<text x="487.50" y="319.90" font-size="7.3" fill="#1e1e1e" text-anchor="end" >1000</text>
<line x1="494.5" y1="311.5" x2="496" y2="311.5" stroke="#a6a6a6" stroke-width="1" />
<line x1="494.5" y1="306.5" x2="496" y2="306.5" stroke="#a6a6a6" stroke-width="1" />
<line x1="493" y1="301.5" x2="496" y2="301.5" stroke="#a6a6a6" stroke-width="1" />
<text x="487.50" y="303.70" font-size="7.3" fill="#1e1e1e" text-anchor="end" >2000</text>
<line x1="494.5" y1="295.5" x2="496" y2="295.5" stroke="#a6a6a6" stroke-width="1" />
<line x1="494.5" y1="290.5" x2="496" y2="290.5" stroke="#a6a6a6" stroke-width="1" />
<line x1="493" y1="284.5" x2="496" y2="284.5" stroke="#a6a6a6" stroke-width="1" />
<text x="487.50" y="287.50" font-size="7.3" fill="#1e1e1e" text-anchor="end" >3000</text>
<line x1="494.5" y1="279.5" x2="496" y2="279.5" stroke="#a6a6a6" stroke-width="1" />
<line x1="494.5" y1="274.5" x2="496" y2="274.5" stroke="#a6a6a6" stroke-width="1" />
<line x1="493" y1="268.5" x2="496" y2="268.5" stroke="#a6a6a6" stroke-width="1" />
<text x="487.50" y="271.30" font-size="7.3" fill="#1e1e1e" text-anchor="end" >4000</text>
<line x1="494.5" y1="263.5" x2="496" y2="263.5" stroke="#a6a6a6" stroke-width="1" />
<line x1="494.5" y1="257.5" x2="496" y2="257.5" stroke="#a6a6a6" stroke-width="1" />
<line x1="493" y1="252.5" x2="496" y2="252.5" stroke="#a6a6a6" stroke-width="1" />
<text x="487.50" y="255.10" font-size="7.3" fill="#1e1e1e" text-anchor="end" >5000</text>
<line x1="494.5" y1="247.5" x2="496" y2="247.5" stroke="#a6a6a6" stroke-width="1" />
<line x1="494.5" y1="241.5" x2="496" y2="241.5" stroke="#a6a6a6" stroke-width="1" />
<line x1="493" y1="236.5" x2="496" y2="236.5" stroke="#a6a6a6" stroke-width="1" />
<text x="487.50" y="238.90" font-size="7.3" fill="#1e1e1e" text-anchor="end" >6000</text>
<line x1="494.5" y1="230.5" x2="496" y2="230.5" stroke="#a6a6a6" stroke-width="1" />
<text transform="translate(465.5,281.00) rotate(-90)" font-size="11" fill="#1e1e1e" text-anchor="middle">Valoare (RON)</text>
<rect x="836.5" y="228.5" width="48" height="26" fill="#fff" stroke="#c2c2c2"/>
<line x1="838.5" y1="234.8" x2="852.5" y2="234.8" stroke="#8fb0d8" stroke-width="1.6" />
<circle cx="845.7" cy="234.8" r="3.2" fill="#4f81bd"/>
<line x1="838.5" y1="247.5" x2="852.5" y2="247.5" stroke="#c9706d" stroke-width="1.6" />
<circle cx="845.7" cy="247.5" r="3.2" fill="#c0504d"/>
<text x="854.40" y="237.60" font-size="7.5" fill="#1e1e1e" text-anchor="start" >Facturat</text>
<text x="854.40" y="250.30" font-size="7.5" fill="#1e1e1e" text-anchor="start" >Incasat</text>
<circle cx="428.7" cy="391.2" r="17" fill="#c2c2c2"/>
<circle cx="428.7" cy="391.2" r="16.1" fill="#3c3c3c"/>
<circle cx="428.7" cy="391.2" r="15.4" fill="url(#btnV)"/>
<circle cx="428.7" cy="391.2" r="15.4" fill="url(#btnEdge)"/>
<path d="M416.90 391.80 L429.30 383.00 L429.30 388.60 L439.80 388.60 L439.80 395.20 L429.30 395.20 L429.30 401.20 Z" fill="url(#arrG)" stroke="#e8e8e8" stroke-width="0.6" stroke-linejoin="round"/>
<circle cx="471.2" cy="391.2" r="17" fill="#c2c2c2"/>
<circle cx="471.2" cy="391.2" r="16.1" fill="#3c3c3c"/>
<circle cx="471.2" cy="391.2" r="15.4" fill="url(#btnV)"/>
<circle cx="471.2" cy="391.2" r="15.4" fill="url(#btnEdge)"/>
<path d="M482.70 391.80 L470.80 383.20 L470.80 388.60 L460.20 388.60 L460.20 395.20 L470.80 395.20 L470.80 401.40 Z" fill="url(#arrG)" stroke="#e8e8e8" stroke-width="0.6" stroke-linejoin="round"/>
</svg></body></html>
